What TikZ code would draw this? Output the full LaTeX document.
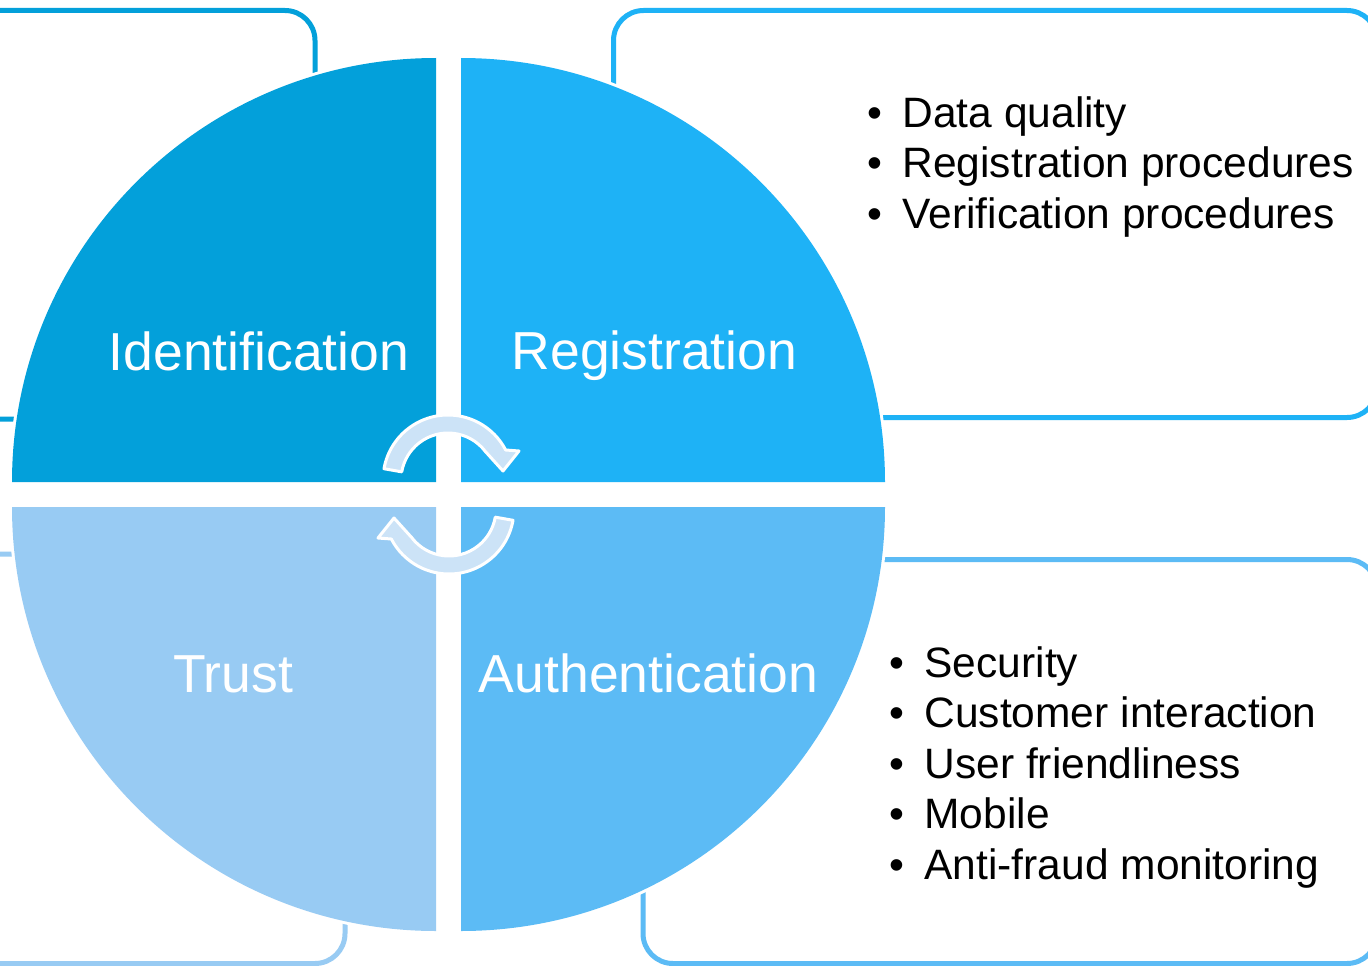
\documentclass[tikz,border=0pt]{standalone}
\usepackage{fontspec}
\setmainfont{Liberation Sans}
\definecolor{qone}{HTML}{03A0DA}
\definecolor{qtwo}{HTML}{1EB2F6}
\definecolor{qthree}{HTML}{98CBF3}
\definecolor{qfour}{HTML}{5CBBF5}
\definecolor{arrowfill}{HTML}{CCE3F7}
\begin{document}
\begin{tikzpicture}[x=1pt,y=1pt,
  boxline/.style={line width=5pt, rounded corners=30pt},
  qlabel/.style={text=white, font=\fontsize{53.5}{60}\selectfont, inner sep=0pt, anchor=base},
  listitem/.style={text=black, font=\fontsize{42.5}{50}\selectfont, inner sep=0pt, anchor=base west},
  arrowshape/.style={fill=arrowfill, draw=white, line width=3pt, line join=round}]
\useasboundingbox (0,0) rectangle (1368,-966);
\fill[white] (0,0) rectangle (1368,-966);
% background boxes
\draw[boxline, qone] (-60,-10.5) rectangle (315,-419);
\draw[boxline, qtwo] (613.5,-10.5) rectangle (1377,-417.5);
\draw[boxline, qthree] (-60,-554) rectangle (345,-963.5);
\draw[boxline, qfour] (643,-559.5) rectangle (1377,-963.5);
% white halos
\fill[white] (436,-482) -- (9,-482) arc[start angle=180, end angle=90, radius=427pt] -- cycle;
\fill[white] (461,-482) -- (461,-55) arc[start angle=90, end angle=0, radius=427pt] -- cycle;
\fill[white] (436,-507) -- (9,-507) arc[start angle=180, end angle=270, radius=427pt] -- cycle;
\fill[white] (461,-507) -- (888,-507) arc[start angle=0, end angle=-90, radius=427pt] -- cycle;
% quadrants
\fill[qone] (436,-482) -- (12,-482) arc[start angle=180, end angle=90, radius=424pt] -- cycle;
\fill[qtwo] (461,-482) -- (461,-58) arc[start angle=90, end angle=0, radius=424pt] -- cycle;
\fill[qthree] (436,-507) -- (12,-507) arc[start angle=180, end angle=270, radius=424pt] -- cycle;
\fill[qfour] (461,-507) -- (885,-507) arc[start angle=0, end angle=-90, radius=424pt] -- cycle;
% circular arrows
\draw[arrowshape] (448,-480) ++(170:65) arc[start angle=170, end angle=27.5, radius=65pt]
  -- (519,-451) -- (503,-471) -- (484,-450) -- (485,-451)
  arc[start angle=38.1, end angle=170, radius=47pt] -- cycle;
\begin{scope}[rotate around={180:(448.5,-494.5)}]
\draw[arrowshape] (448,-480) ++(170:65) arc[start angle=170, end angle=27.5, radius=65pt]
  -- (519,-451) -- (503,-471) -- (484,-450) -- (485,-451)
  arc[start angle=38.1, end angle=170, radius=47pt] -- cycle;
\end{scope}
% quadrant labels
\node[qlabel] (ident) at (259,-370) {Identification};
\node[qlabel] (regis) at (654.5,-369) {Registration};
\node[qlabel] (trust) at (233,-692) {Trust};
\node[qlabel] (authe) at (648.5,-692) {Authentication};
% lists
\node[listitem] (r1) at (867.5,-127) {•\hspace{20pt}Data quality};
\node[listitem] (r2) at (867.5,-177.5) {•\hspace{20pt}Registration procedures};
\node[listitem] (r3) at (867.5,-228) {•\hspace{20pt}Verification procedures};
\node[listitem] (a1) at (889.5,-677) {•\hspace{20pt}Security};
\node[listitem] (a2) at (889.5,-727.5) {•\hspace{20pt}Customer interaction};
\node[listitem] (a3) at (889.5,-778) {•\hspace{20pt}User friendliness};
\node[listitem] (a4) at (889.5,-828.5) {•\hspace{20pt}Mobile};
\node[listitem] (a5) at (889.5,-879) {•\hspace{20pt}Anti-fraud monitoring};
\end{tikzpicture}
\end{document}
